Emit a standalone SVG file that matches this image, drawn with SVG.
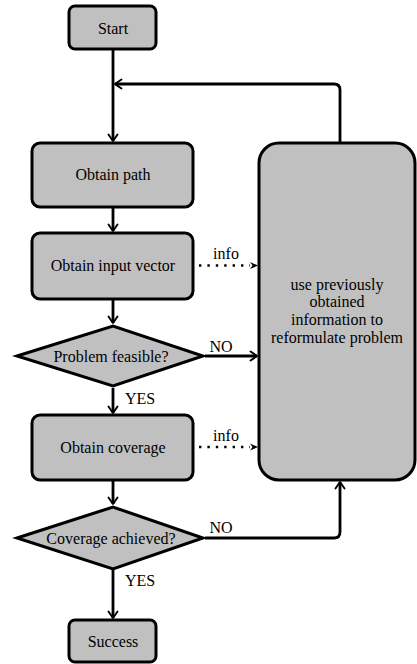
<svg xmlns="http://www.w3.org/2000/svg" width="417" height="664" viewBox="0 0 417 664">
<defs>
<style>
.node{fill:#c0c0c0;stroke:#000;stroke-width:3;stroke-linejoin:miter}
.c{fill:none;stroke:#000;stroke-width:2.8}
.d{fill:none;stroke:#000;stroke-width:2.4;stroke-dasharray:2.4 6}
</style>
<marker id="arr" viewBox="-8 -6 10 12" refX="0" refY="0" markerWidth="10" markerHeight="12" markerUnits="userSpaceOnUse" orient="auto">
<path d="M-6.5,-4.5 Q-2,-1.5 0,0 Q-2,1.5 -6.5,4.5" fill="none" stroke="#000" stroke-width="1.9" stroke-linecap="round" stroke-linejoin="round"/>
</marker>
<marker id="stl" viewBox="-9 -5 10 10" refX="0" refY="0" markerWidth="10" markerHeight="10" markerUnits="userSpaceOnUse" orient="auto">
<path d="M0,0 L-8,-3.5 L-5.5,0 L-8,3.5 Z" fill="#000"/>
</marker>
</defs>
<g font-family="Liberation Serif, DejaVu Serif, serif" font-size="16" text-anchor="middle" fill="#000">
<g id="connectors">
<path class="c" d="M113,49 V141" marker-end="url(#arr)"/>
<path class="c" d="M340,143 V90 Q340,84 334,84 H115" marker-end="url(#arr)"/>
<path class="c" d="M113,207 V231" marker-end="url(#arr)"/>
<path class="c" d="M113,299 V323" marker-end="url(#arr)"/>
<path class="c" d="M113,388 V413" marker-end="url(#arr)"/>
<path class="c" d="M113,480 V504" marker-end="url(#arr)"/>
<path class="c" d="M113,570 V618" marker-end="url(#arr)"/>
<path class="c" d="M205,356 H257" marker-end="url(#arr)"/>
<path class="c" d="M205,538 H334 Q340,538 340,532 V482" marker-end="url(#arr)"/>
<path class="d" d="M199,265.5 H250"/>
<path d="M250,265.5 H258" fill="none" stroke="none" marker-end="url(#stl)"/>
<path class="d" d="M199,447 H250"/>
<path d="M250,447 H258" fill="none" stroke="none" marker-end="url(#stl)"/>
<text x="226" y="258.5">info</text>
<text x="226" y="440.5">info</text>
<text x="221" y="351.5">NO</text>
<text x="221" y="533">NO</text>
<text x="140" y="403.5">YES</text>
<text x="140" y="585.5">YES</text>
</g>
<g id="start">
<rect class="node" x="69" y="6" width="87" height="43" rx="6"/>
<text x="113" y="33.5">Start</text>
</g>
<g id="obtain-path">
<rect class="node" x="32" y="143" width="161" height="64" rx="8"/>
<text x="113" y="180">Obtain path</text>
</g>
<g id="obtain-input">
<rect class="node" x="32" y="233" width="161" height="66" rx="8"/>
<text x="113" y="270.5">Obtain input vector</text>
</g>
<g id="feasible">
<polygon class="node" points="17,356 113,326 203,356 113,386"/>
<text x="111" y="361.5">Problem feasible?</text>
</g>
<g id="obtain-coverage">
<rect class="node" x="32" y="415" width="161" height="65" rx="8"/>
<text x="113" y="452.5">Obtain coverage</text>
</g>
<g id="achieved">
<polygon class="node" points="17,538 113,507 203,538 113,569"/>
<text x="111" y="543.5">Coverage achieved?</text>
</g>
<g id="success">
<rect class="node" x="69" y="620" width="87" height="42" rx="6"/>
<text x="113" y="646.5">Success</text>
</g>
<g id="reformulate">
<rect class="node" x="259" y="143" width="156" height="337" rx="20"/>
<text x="337" y="289.5">use previously</text>
<text x="337" y="307">obtained</text>
<text x="337" y="325">information to</text>
<text x="337" y="343">reformulate problem</text>
</g>
</g>
</svg>
